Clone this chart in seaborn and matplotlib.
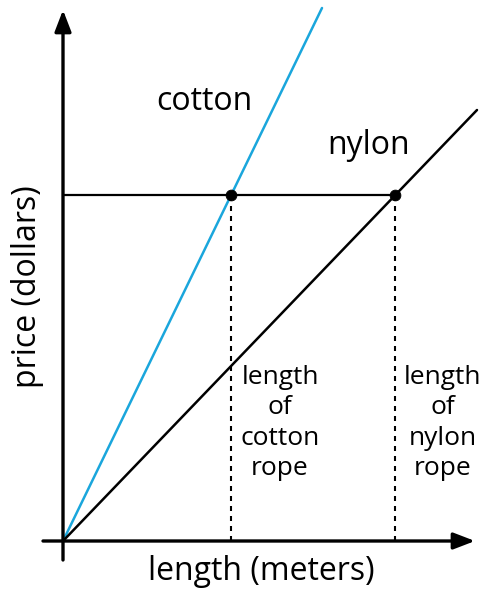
import matplotlib
matplotlib.use("Agg")
import matplotlib.pyplot as plt
import pandas as pd
import seaborn as sns

sns.set_style("white")
plt.rcParams['font.family'] = ['Open Sans', 'DejaVu Sans']

# ── Datos (unidades arbitrarias, origen en 0) ──
cotton_x = [0, 259]
cotton_y = [0, 533]
nylon_x = [0, 414]
nylon_y = [0, 431]
price = 346
cotton_len = 168
nylon_len = 332

df_cotton = pd.DataFrame({'length': cotton_x, 'price': cotton_y})
df_nylon = pd.DataFrame({'length': nylon_x, 'price': nylon_y})

fig = plt.figure(figsize=(4.85, 5.90), dpi=100)
ax = fig.add_axes([0, 0, 1, 1])
ax.set_xlim(-63, 422)
ax.set_ylim(-49, 541)
ax.axis('off')

# ── Ejes con flechas ──
arrow = dict(arrowstyle='-|>,head_length=1.3,head_width=0.5', color='black',
             lw=2.4, shrinkA=0, shrinkB=0)
ax.annotate('', xy=(0, 531), xytext=(0, -19), arrowprops=arrow)
ax.annotate('', xy=(412, 0), xytext=(-20, 0), arrowprops=arrow)

# ── Rectas ──
sns.lineplot(data=df_cotton, x='length', y='price', color='#1aa6dc', lw=1.8, ax=ax)
sns.lineplot(data=df_nylon, x='length', y='price', color='black', lw=1.8, ax=ax)

ax.plot([0, nylon_len], [price, price], color='black', lw=1.6)
for xv in (cotton_len, nylon_len):
    ax.plot([xv, xv], [0, price], color='black', lw=1.5, ls=(0, (2.4, 2.4)))
sns.scatterplot(x=[cotton_len, nylon_len], y=[price, price], color='black',
                s=60, zorder=5, ax=ax, edgecolor='black')

# ── Textos ──
txt = dict(color='black', ha='center', va='center')
ax.text(141, 440, 'cotton', fontsize=23, **txt)
ax.text(306, 396, 'nylon', fontsize=23, **txt)
ax.text(198, -30, 'length (meters)', fontsize=23, **txt)
ax.text(-36, 254, 'price (dollars)', fontsize=23, rotation=90, **txt)
ax.text(217, 118, 'length\nof\ncotton\nrope', fontsize=19, linespacing=1.27, **txt)
ax.text(380, 118, 'length\nof\nnylon\nrope', fontsize=19, linespacing=1.27, **txt)

fig.savefig('out.png', dpi=100)
